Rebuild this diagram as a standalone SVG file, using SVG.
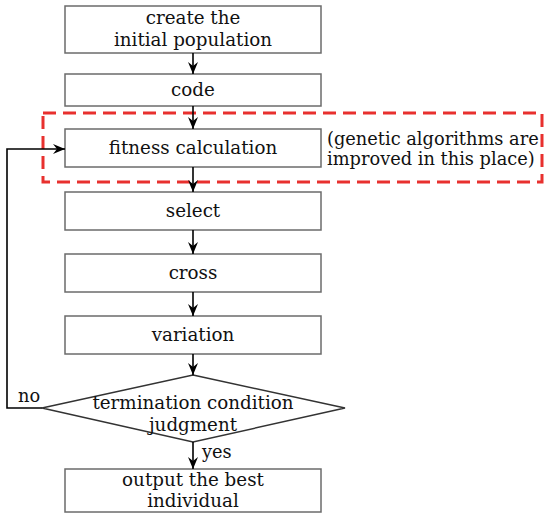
<svg xmlns="http://www.w3.org/2000/svg" width="545" height="513" viewBox="0 0 545 513">
<style>
.box{fill:#fff;stroke:#6b6b6b;stroke-width:1.5}
.dia{fill:#fff;stroke:#333;stroke-width:1.5}
.t{font-family:"DejaVu Serif","Liberation Serif",serif;font-size:18.3px;fill:#111;text-anchor:middle}
.ts{font-family:"DejaVu Serif","Liberation Serif",serif;font-size:17.8px;fill:#111}
.c{fill:none;stroke:#000;stroke-width:1.6}
.hl{fill:none;stroke:#e8302e;stroke-width:3;stroke-dasharray:13 7}
</style>
<defs>
<marker id="ah" viewBox="0 0 12 10" refX="12" refY="5" markerWidth="12" markerHeight="10" markerUnits="userSpaceOnUse" orient="auto">
<path d="M0,0 L12,5 L0,10 L4,5 Z" fill="#000"/>
</marker>
</defs>
<g id="highlight">
<rect class="hl" x="43" y="113" width="499" height="69"/>
</g>
<g id="n1"><rect class="box" x="65" y="6" width="256" height="47"/>
<text class="t" x="193" y="24">create the</text><text class="t" x="193" y="46">initial population</text></g>
<g id="n2"><rect class="box" x="65" y="74" width="256" height="32"/>
<text class="t" x="193" y="96">code</text></g>
<g id="n3"><rect class="box" x="65" y="129" width="256" height="38"/>
<text class="t" x="193" y="154">fitness calculation</text></g>
<g id="note"><text class="ts" x="327" y="145">(genetic algorithms are</text><text class="ts" x="327" y="165">improved in this place)</text></g>
<g id="n4"><rect class="box" x="65" y="192" width="256" height="38"/>
<text class="t" x="193" y="217">select</text></g>
<g id="n5"><rect class="box" x="65" y="254" width="256" height="38"/>
<text class="t" x="193" y="279">cross</text></g>
<g id="n6"><rect class="box" x="65" y="316" width="256" height="38"/>
<text class="t" x="193" y="341">variation</text></g>
<g id="n7"><polygon class="dia" points="193,375 345,408 193,442 42,408"/>
<text class="t" x="193" y="409">termination condition</text><text class="t" x="193" y="431">judgment</text></g>
<g id="n8"><rect class="box" x="65" y="469" width="256" height="43"/>
<text class="t" x="193" y="486">output the best</text><text class="t" x="193" y="507">individual</text></g>
<g id="connectors">
<line class="c" x1="193" y1="53" x2="193" y2="74" marker-end="url(#ah)"/>
<line class="c" x1="193" y1="106" x2="193" y2="129" marker-end="url(#ah)"/>
<line class="c" x1="193" y1="167" x2="193" y2="192" marker-end="url(#ah)"/>
<line class="c" x1="193" y1="230" x2="193" y2="254" marker-end="url(#ah)"/>
<line class="c" x1="193" y1="292" x2="193" y2="316" marker-end="url(#ah)"/>
<line class="c" x1="193" y1="354" x2="193" y2="375" marker-end="url(#ah)"/>
<line class="c" x1="193" y1="442" x2="193" y2="469" marker-end="url(#ah)"/>
<polyline class="c" points="42,408 7,408 7,149 65,149" marker-end="url(#ah)"/>
<text class="ts" x="18" y="402">no</text>
<text class="ts" x="202" y="458">yes</text>
</g>
</svg>
